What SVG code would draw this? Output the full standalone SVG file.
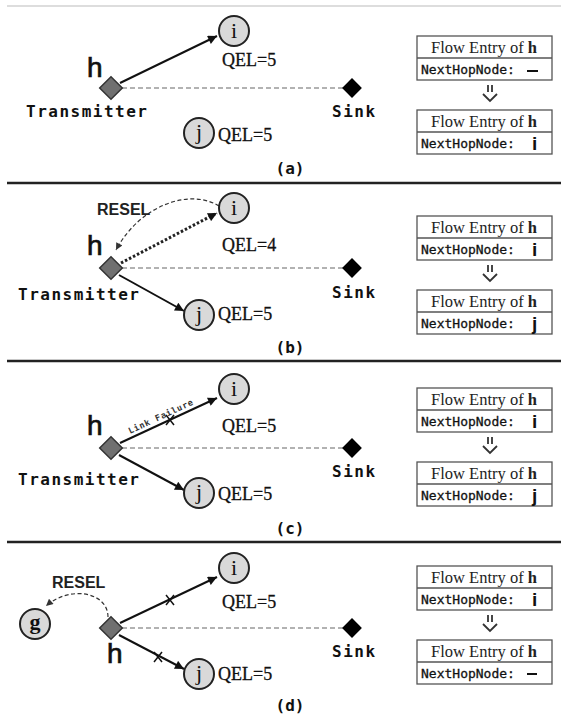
<svg xmlns="http://www.w3.org/2000/svg" width="561" height="719" viewBox="0 0 561 719">
  <style>
    .sep { stroke: #222; stroke-width: 2.5; }
    .sepTop { stroke: #bbb; stroke-width: 1; }
    .node { fill: #d9d9d9; stroke: #222; stroke-width: 2; }
    .nl { font-family: "Liberation Serif", "DejaVu Serif", serif; font-size: 22px; fill: #111; text-anchor: middle; }
    .qel { font-family: "Liberation Serif", "DejaVu Serif", serif; font-size: 18px; fill: #111; stroke: #111; stroke-width: 0.3; }
    .h { font-family: "Liberation Sans", Arial, sans-serif; font-size: 28px; fill: #111; stroke: #111; stroke-width: 0.7; }
    .mono { font-family: "DejaVu Sans Mono", "Liberation Mono", monospace; font-size: 16px; font-weight: bold; fill: #111; letter-spacing: 1.5px; }
    .cap { font-family: "DejaVu Sans Mono", "Liberation Mono", monospace; font-size: 16px; font-weight: bold; fill: #111; text-anchor: middle; }
    .resel { font-family: "Liberation Sans", Arial, sans-serif; font-size: 16px; font-weight: bold; fill: #222; }
    .hnode { fill: #707070; stroke: #333; stroke-width: 1.5; }
    .sink { fill: #000; }
    .link { stroke: #111; stroke-width: 2; fill: none; }
    .dot { stroke: #222; stroke-width: 3; stroke-dasharray: 2.5 2; fill: none; }
    .dash { stroke: #999; stroke-width: 1.5; stroke-dasharray: 5 3; fill: none; }
    .curve { stroke: #333; stroke-width: 1.2; stroke-dasharray: 4 2.5; fill: none; }
    .xm { stroke: #111; stroke-width: 1.5; }
    .box { fill: #fff; stroke: #555; stroke-width: 1.3; }
    .fe { font-family: "Liberation Serif", "DejaVu Serif", serif; font-size: 16.5px; fill: #222; text-anchor: middle; }
    .nh { font-family: "DejaVu Sans Mono", "Liberation Mono", monospace; font-size: 13px; fill: #111; stroke: #111; stroke-width: 0.3; }
    .val { font-family: "Liberation Sans", Arial, sans-serif; font-size: 19px; font-weight: bold; fill: #111; }
    .down { stroke: #333; stroke-width: 1.8; fill: none; }
    .lf { font-family: "DejaVu Sans Mono", "Liberation Mono", monospace; font-size: 8.5px; font-weight: bold; fill: #333; letter-spacing: 0.8px; }
  </style>
  <defs>
    <marker id="arr" viewBox="0 0 10 10" refX="10" refY="5" markerWidth="11" markerHeight="9" markerUnits="userSpaceOnUse" orient="auto">
      <path d="M0,0 L10,5 L0,10 z" fill="#111"/>
    </marker>
    <marker id="arrS" viewBox="0 0 10 10" refX="10" refY="5" markerWidth="8" markerHeight="7" markerUnits="userSpaceOnUse" orient="auto">
      <path d="M0,0 L10,5 L0,10 z" fill="#333"/>
    </marker>
    <!-- one flow-entry table: header row + next-hop row -->
    <g id="tbl">
      <rect class="box" x="417" y="0" width="135" height="44"/>
      <line x1="417" y1="22" x2="552" y2="22" stroke="#555" stroke-width="1.3"/>
      <text class="fe" x="484" y="17">Flow Entry of <tspan font-weight="bold">h</tspan></text>
      <text class="nh" x="421" y="38">NextHopNode:</text>
    </g>
    <!-- transition arrow between the two tables -->
    <g id="down">
      <line class="down" x1="488" y1="5" x2="488" y2="12"/>
      <line class="down" x1="492" y1="5" x2="492" y2="12"/>
      <path class="down" d="M483,14 L490,21 L497,14"/>
    </g>
  </defs>

  <!-- panel separators -->
  <g id="separators">
    <line class="sepTop" x1="7" y1="6" x2="561" y2="6"/>
    <line class="sep" x1="7" y1="183" x2="561" y2="183"/>
    <line class="sep" x1="7" y1="361" x2="561" y2="361"/>
    <line class="sep" x1="7" y1="542" x2="561" y2="542"/>
  </g>

  <!-- connectors -->
  <g id="connectors">
    <!-- (a) -->
    <line class="dash" x1="122" y1="88" x2="343" y2="88"/>
    <line class="link" x1="120" y1="83" x2="217" y2="36" marker-end="url(#arr)"/>
    <!-- (b) -->
    <line class="dash" x1="122" y1="268" x2="343" y2="268"/>
    <line class="dot" x1="121" y1="263" x2="217" y2="213" marker-end="url(#arr)"/>
    <line class="link" x1="119" y1="275" x2="184" y2="311" marker-end="url(#arr)"/>
    <path class="curve" d="M219,206 C190,188 140,205 116,250" marker-end="url(#arrS)"/>
    <!-- (c) -->
    <line class="dash" x1="122" y1="448" x2="343" y2="448"/>
    <line class="link" x1="120" y1="443" x2="217" y2="398" marker-end="url(#arr)"/>
    <line class="link" x1="119" y1="455" x2="184" y2="490" marker-end="url(#arr)"/>
    <g class="xm"><line x1="166" y1="415" x2="174" y2="425"/><line x1="166" y1="425" x2="174" y2="415"/></g>
    <text class="lf" transform="translate(130,434) rotate(-25)">Link Failure</text>
    <!-- (d) -->
    <line class="dash" x1="122" y1="628" x2="343" y2="628"/>
    <line class="link" x1="120" y1="623" x2="217" y2="577" marker-end="url(#arr)"/>
    <line class="link" x1="119" y1="635" x2="184" y2="669" marker-end="url(#arr)"/>
    <path class="curve" d="M108,617 C108,592 70,585 46,606" marker-end="url(#arrS)"/>
    <g class="xm"><line x1="166" y1="595" x2="174" y2="605"/><line x1="166" y1="605" x2="174" y2="595"/></g>
    <g class="xm"><line x1="154" y1="652" x2="162" y2="662"/><line x1="154" y1="662" x2="162" y2="652"/></g>
  </g>

  <!-- ===== panel (a) ===== -->
  <g id="a-h">
    <rect class="hnode" x="103" y="80" width="16" height="16" transform="rotate(45 111 88)"/>
    <text class="h" x="87" y="77">h</text>
    <text class="mono" x="26" y="117">Transmitter</text>
  </g>
  <g id="a-i">
    <circle class="node" cx="234" cy="31" r="15"/>
    <text class="nl" x="234" y="38">i</text>
    <text class="qel" x="222" y="66">QEL=5</text>
  </g>
  <g id="a-j">
    <circle class="node" cx="199" cy="133" r="15"/>
    <text class="nl" x="199" y="139">j</text>
    <text class="qel" x="218" y="141">QEL=5</text>
  </g>
  <g id="a-sink">
    <rect class="sink" x="345" y="81" width="14" height="14" transform="rotate(45 352 88)"/>
    <text class="mono" x="332" y="117">Sink</text>
  </g>
  <g id="a-table">
    <use href="#tbl" y="36"/>
    <path d="M527,71 H538" stroke="#111" stroke-width="2"/>
    <use href="#down" y="80"/>
    <use href="#tbl" y="110"/>
    <text class="val" x="532" y="150">i</text>
  </g>
  <text class="cap" x="290" y="174">(a)</text>

  <!-- ===== panel (b) ===== -->
  <g id="b-h">
    <rect class="hnode" x="103" y="260" width="16" height="16" transform="rotate(45 111 268)"/>
    <text class="h" x="87" y="255">h</text>
    <text class="mono" x="18" y="300">Transmitter</text>
    <text class="resel" x="97" y="215">RESEL</text>
  </g>
  <g id="b-i">
    <circle class="node" cx="234" cy="208" r="15"/>
    <text class="nl" x="234" y="215">i</text>
    <text class="qel" x="222" y="251">QEL=4</text>
  </g>
  <g id="b-j">
    <circle class="node" cx="199" cy="315" r="15"/>
    <text class="nl" x="199" y="321">j</text>
    <text class="qel" x="218" y="320">QEL=5</text>
  </g>
  <g id="b-sink">
    <rect class="sink" x="345" y="261" width="14" height="14" transform="rotate(45 352 268)"/>
    <text class="mono" x="332" y="298">Sink</text>
  </g>
  <g id="b-table">
    <use href="#tbl" y="216"/>
    <text class="val" x="532" y="256">i</text>
    <use href="#down" y="260"/>
    <use href="#tbl" y="290"/>
    <text class="val" x="532" y="330">j</text>
  </g>
  <text class="cap" x="290" y="353">(b)</text>

  <!-- ===== panel (c) ===== -->
  <g id="c-h">
    <rect class="hnode" x="103" y="440" width="16" height="16" transform="rotate(45 111 448)"/>
    <text class="h" x="87" y="435">h</text>
    <text class="mono" x="18" y="485">Transmitter</text>
  </g>
  <g id="c-i">
    <circle class="node" cx="234" cy="389" r="15"/>
    <text class="nl" x="234" y="396">i</text>
    <text class="qel" x="222" y="432">QEL=5</text>
  </g>
  <g id="c-j">
    <circle class="node" cx="199" cy="493" r="15"/>
    <text class="nl" x="199" y="499">j</text>
    <text class="qel" x="218" y="500">QEL=5</text>
  </g>
  <g id="c-sink">
    <rect class="sink" x="345" y="441" width="14" height="14" transform="rotate(45 352 448)"/>
    <text class="mono" x="332" y="477">Sink</text>
  </g>
  <g id="c-table">
    <use href="#tbl" y="388"/>
    <text class="val" x="532" y="428">i</text>
    <use href="#down" y="432"/>
    <use href="#tbl" y="462"/>
    <text class="val" x="532" y="502">j</text>
  </g>
  <text class="cap" x="290" y="534">(c)</text>

  <!-- ===== panel (d) ===== -->
  <g id="d-h">
    <rect class="hnode" x="103" y="620" width="16" height="16" transform="rotate(45 111 628)"/>
    <text class="h" x="107" y="663">h</text>
    <text class="resel" x="52" y="588">RESEL</text>
  </g>
  <g id="d-g">
    <circle class="node" cx="35" cy="624" r="15"/>
    <text class="nl" x="35" y="629" font-weight="bold">g</text>
  </g>
  <g id="d-i">
    <circle class="node" cx="234" cy="568" r="15"/>
    <text class="nl" x="234" y="575">i</text>
    <text class="qel" x="222" y="608">QEL=5</text>
  </g>
  <g id="d-j">
    <circle class="node" cx="199" cy="674" r="15"/>
    <text class="nl" x="199" y="680">j</text>
    <text class="qel" x="218" y="680">QEL=5</text>
  </g>
  <g id="d-sink">
    <rect class="sink" x="345" y="621" width="14" height="14" transform="rotate(45 352 628)"/>
    <text class="mono" x="332" y="657">Sink</text>
  </g>
  <g id="d-table">
    <use href="#tbl" y="566"/>
    <text class="val" x="532" y="606">i</text>
    <use href="#down" y="610"/>
    <use href="#tbl" y="640"/>
    <path d="M527,674 H537" stroke="#111" stroke-width="2"/>
  </g>
  <text class="cap" x="290" y="711">(d)</text>
</svg>
